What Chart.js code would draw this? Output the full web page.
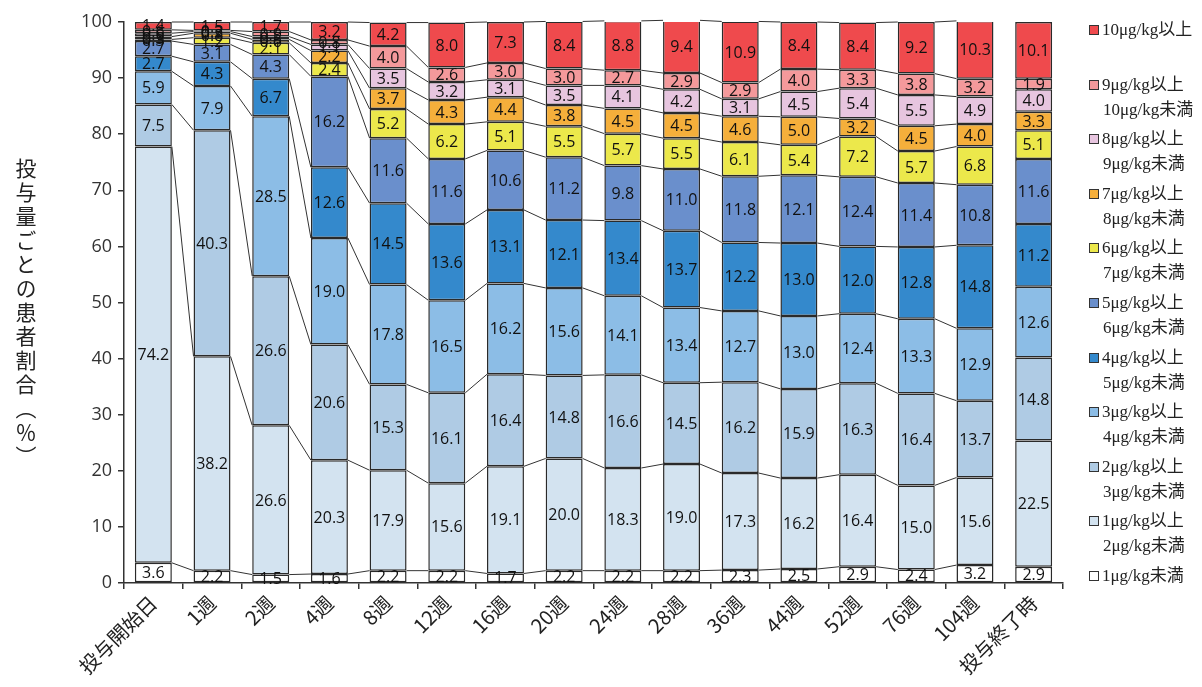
<!DOCTYPE html>
<html><head><meta charset="utf-8">
<script src="https://cdn.jsdelivr.net/npm/chart.js@4.4.1/dist/chart.umd.min.js"></script>
<style>
html,body{margin:0;padding:0;background:#fff;}
#wrap{position:relative;width:1202px;height:687px;overflow:hidden;}
#c{position:absolute;left:0;top:0;}
#ytitle{position:absolute;left:11px;top:158px;writing-mode:vertical-rl;font-family:"Noto Sans CJK JP";font-size:21px;letter-spacing:3px;color:#222;}
.lg{position:absolute;left:1089px;font-family:"Liberation Serif","Noto Sans CJK JP";font-size:17px;color:#222;line-height:25px;white-space:nowrap;}
.lg .bx{display:inline-block;width:8px;height:8px;border:1.6px solid #333;margin-right:3px;vertical-align:0px;}
.lg .l2{padding-left:14px;}
</style></head>
<body><div id="wrap"><canvas id="c" width="1202" height="687"></canvas>
<div id="ytitle">投与量ごとの患者割合（％）</div>
<div id="legend"></div></div>
<script>
const categories = ['投与開始日','1週','2週','4週','8週','12週','16週','20週','24週','28週','36週','44週','52週','76週','104週','投与終了時'];
const lt1   = [3.6,2.2,1.5,1.6,2.2,2.2,1.7,2.2,2.2,2.2,2.3,2.5,2.9,2.4,3.2,2.9];
const d1_2  = [74.2,38.2,26.6,20.3,17.9,15.6,19.1,20.0,18.3,19.0,17.3,16.2,16.4,15.0,15.6,22.5];
const d2_3  = [7.5,40.3,26.6,20.6,15.3,16.1,16.4,14.8,16.6,14.5,16.2,15.9,16.3,16.4,13.7,14.8];
const d3_4  = [5.9,7.9,28.5,19.0,17.8,16.5,16.2,15.6,14.1,13.4,12.7,13.0,12.4,13.3,12.9,12.6];
const d4_5  = [2.7,4.3,6.7,12.6,14.5,13.6,13.1,12.1,13.4,13.7,12.2,13.0,12.0,12.8,14.8,11.2];
const d5_6  = [2.7,3.1,4.3,16.2,11.6,11.6,10.6,11.2,9.8,11.0,11.8,12.1,12.4,11.4,10.8,11.6];
const d6_7  = [0.3,1.2,2.1,2.4,5.2,6.2,5.1,5.5,5.7,5.5,6.1,5.4,7.2,5.7,6.8,5.1];
const d7_8  = [0.5,0.8,0.6,2.2,3.7,4.3,4.4,3.8,4.5,4.5,4.6,5.0,3.2,4.5,4.0,3.3];
const d8_9  = [0.6,0.3,0.5,1.1,3.5,3.2,3.1,3.5,4.1,4.2,3.1,4.5,5.4,5.5,4.9,4.0];
const d9_10 = [0.6,0.2,0.9,0.8,4.0,2.6,3.0,3.0,2.7,2.9,2.9,4.0,3.3,3.8,3.2,1.9];
const ge10  = [1.4,1.5,1.7,3.2,4.2,8.0,7.3,8.4,8.8,9.4,10.9,8.4,8.4,9.2,10.3,10.1];
const seriesLabels = [
  ['1μg/kg未満'],
  ['1μg/kg以上','2μg/kg未満'],
  ['2μg/kg以上','3μg/kg未満'],
  ['3μg/kg以上','4μg/kg未満'],
  ['4μg/kg以上','5μg/kg未満'],
  ['5μg/kg以上','6μg/kg未満'],
  ['6μg/kg以上','7μg/kg未満'],
  ['7μg/kg以上','8μg/kg未満'],
  ['8μg/kg以上','9μg/kg未満'],
  ['9μg/kg以上','10μg/kg未満'],
  ['10μg/kg以上']
];
const seriesValues = [lt1,d1_2,d2_3,d3_4,d4_5,d5_6,d6_7,d7_8,d8_9,d9_10,ge10];
const colors = ['#ffffff','#d3e3f0','#afcbe4','#8cbde6','#3489cc','#6a8fcc','#ece84b','#f5af3b','#e7c5df','#f4999b','#ef4a4d'];

const datasets = seriesValues.map((v,i)=>({
  label: seriesLabels[i].join(''),
  data: v,
  backgroundColor: colors[i],
  borderColor: '#2a2a2a',
  borderWidth: 1.5,
  borderSkipped: false,
  barPercentage: 0.63,
  categoryPercentage: 1.0
}));

const connectors = {
  id:'connectors',
  beforeDatasetsDraw(chart){
    const ctx = chart.ctx;
    ctx.save();
    ctx.strokeStyle = '#333';
    ctx.lineWidth = 1;
    const n = categories.length;
    chart.data.datasets.forEach((ds,di)=>{
      const meta = chart.getDatasetMeta(di);
      for(let i=0;i<n-2;i++){
        const a = meta.data[i], b = meta.data[i+1];
        ctx.beginPath();
        ctx.moveTo(a.x + a.width/2, a.y);
        ctx.lineTo(b.x - b.width/2, b.y);
        ctx.stroke();
      }
    });
    ctx.restore();
  }
};
const labelsPlugin = {
  id:'segLabels',
  afterDatasetsDraw(chart){
    const ctx = chart.ctx;
    ctx.save();
    ctx.font = '16px "Open Sans"';
    ctx.fillStyle = '#111';
    ctx.textAlign = 'center';
    ctx.textBaseline = 'middle';
    chart.data.datasets.forEach((ds,di)=>{
      const meta = chart.getDatasetMeta(di);
      meta.data.forEach((el,i)=>{
        ctx.fillText(ds.data[i].toFixed(1), el.x, (el.y+el.base)/2 + 1);
      });
    });
    ctx.restore();
  }
};

new Chart(document.getElementById('c'), {
  type:'bar',
  data:{labels:categories, datasets},
  plugins:[connectors,labelsPlugin],
  options:{
    responsive:false, animation:false, devicePixelRatio:1,
    layout:{padding:{top:22,right:139,bottom:0,left:0}},
    plugins:{legend:{display:false},tooltip:{enabled:false}},
    scales:{
      x:{stacked:true,
        grid:{display:true,drawOnChartArea:false,tickLength:6,color:'#333',lineWidth:1.5,offset:true},
        border:{color:'#333',width:1.5},
        ticks:{color:'#222',font:{family:'"Noto Sans CJK JP"',size:20},maxRotation:45,minRotation:45,autoSkip:false,padding:2},
        afterFit(s){s.height=104;}
      },
      y:{stacked:true,min:0,max:100,
        ticks:{stepSize:10,color:'#333',font:{family:'"Open Sans"',size:18},padding:6},
        grid:{drawOnChartArea:false,tickLength:6,color:'#333',lineWidth:1.5},
        border:{color:'#333',width:1.5},
        afterFit(s){s.width=124;}
      }
    }
  }
});

// legend (top item = highest band)
const lg = document.getElementById('legend');
for(let k=0;k<seriesLabels.length;k++){
  const idx = seriesLabels.length-1-k;
  const lab = seriesLabels[idx];
  const d = document.createElement('div');
  d.className='lg';
  d.style.top = (17 + k*54.6) + 'px';
  let html = '<span class="bx" style="background:'+colors[idx]+'"></span>'+lab[0];
  if(lab[1]) html += '<div class="l2">'+lab[1]+'</div>';
  d.innerHTML = html;
  lg.appendChild(d);
}
</script></body></html>
